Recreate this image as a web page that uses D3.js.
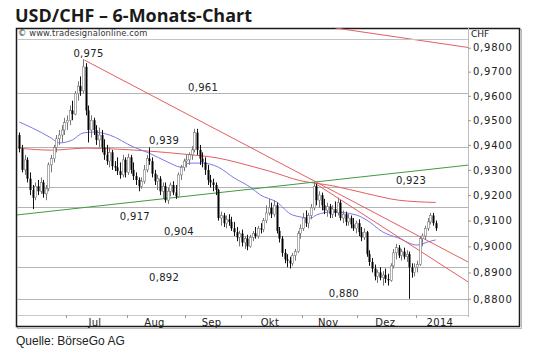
<!DOCTYPE html>
<html><head><meta charset="utf-8">
<script src="https://cdn.jsdelivr.net/npm/d3@7"></script>
<style>body{margin:0;background:#fff}svg{display:block}</style>
</head><body>
<svg id="c" width="540" height="358"></svg>
<script>
// ---- data (trading-day index 0 = first candle, early June 2013) ----
const opens=[.9440,.9385,.9300,.9340,.9265,.9220,.9190,.9235,.9215,.9250,.9205,.9225,.9320,.9345,.9390,.9425,.9440,.9460,.9490,.9500,
.9540,.9525,.9610,.9640,.9620,.9720,.9540,.9460,.9500,.9460,.9420,.9440,.9390,.9360,.9335,.9370,.9315,.9310,.9295,.9280,
.9340,.9290,.9350,.9300,.9275,.9260,.9235,.9255,.9300,.9345,.9335,.9285,.9255,.9265,.9215,.9235,.9180,.9215,.9240,.9210,
.9195,.9280,.9310,.9335,.9340,.9360,.9380,.9450,.9380,.9345,.9330,.9300,.9260,.9250,.9240,.9220,.9110,.9120,.9090,.9105,
.9095,.9070,.9055,.9035,.9050,.9015,.9030,.9000,.9035,.9050,.9040,.9070,.9065,.9100,.9130,.9150,.9125,.9160,.9060,.9030,
.8975,.8950,.8945,.8935,.8965,.8980,.9050,.9070,.9110,.9090,.9120,.9150,.9235,.9180,.9200,.9160,.9140,.9155,.9125,.9145,
.9130,.9170,.9110,.9125,.9095,.9110,.9085,.9070,.9090,.9055,.9035,.9055,.8970,.8940,.8915,.8885,.8900,.8880,.8890,.8875,
.8870,.8925,.8975,.8995,.8965,.8980,.8960,.8970,.8920,.8900,.8920,.8930,.9030,.9040,.9070,.9095,.9120,.9090];
const highs=[.9450,.9400,.9360,.9350,.9290,.9240,.9250,.9260,.9270,.9260,.9240,.9330,.9360,.9400,.9440,.9460,.9480,.9510,.9520,.9560,
.9580,.9620,.9660,.9680,.9752,.9735,.9560,.9520,.9510,.9480,.9470,.9460,.9423,.9400,.9390,.9380,.9335,.9350,.9330,.9360,
.9350,.9365,.9360,.9330,.9290,.9270,.9270,.9320,.9360,.9390,.9350,.9300,.9280,.9275,.9250,.9250,.9230,.9250,.9255,.9240,
.9290,.9320,.9345,.9360,.9370,.9395,.9465,.9465,.9400,.9370,.9350,.9320,.9280,.9265,.9250,.9225,.9135,.9130,.9120,.9125,
.9115,.9095,.9075,.9060,.9065,.9040,.9045,.9045,.9060,.9075,.9080,.9090,.9110,.9160,.9185,.9170,.9180,.9170,.9075,.9040,
.8990,.8970,.8960,.8975,.8990,.9060,.9085,.9130,.9140,.9130,.9165,.9250,.9245,.9215,.9210,.9185,.9170,.9165,.9160,.9175,
.9190,.9180,.9140,.9135,.9125,.9120,.9110,.9100,.9105,.9075,.9070,.9060,.8985,.8955,.8930,.8910,.8920,.8905,.8915,.8895,
.8935,.8990,.9010,.9005,.8990,.8995,.8985,.8980,.8935,.8935,.8945,.9040,.9050,.9080,.9110,.9130,.9130,.9100];
const lows=[.9370,.9290,.9280,.9250,.9200,.9145,.9180,.9200,.9205,.9190,.9180,.9215,.9290,.9330,.9370,.9400,.9410,.9440,.9460,.9480,
.9500,.9520,.9580,.9600,.9610,.9520,.9410,.9430,.9440,.9400,.9390,.9370,.9340,.9320,.9310,.9300,.9295,.9280,.9265,.9270,
.9270,.9280,.9285,.9260,.9240,.9215,.9225,.9245,.9290,.9320,.9270,.9240,.9220,.9200,.9185,.9170,.9165,.9195,.9200,.9185,
.9190,.9260,.9295,.9310,.9320,.9340,.9370,.9360,.9320,.9310,.9280,.9240,.9230,.9215,.9200,.9100,.9080,.9075,.9070,.9080,
.9060,.9040,.9020,.9000,.9000,.8990,.8985,.8995,.9020,.9030,.9030,.9050,.9055,.9090,.9120,.9110,.9115,.9050,.9015,.8960,
.8935,.8920,.8915,.8925,.8945,.8975,.9030,.9060,.9075,.9070,.9105,.9140,.9160,.9150,.9140,.9125,.9115,.9110,.9110,.9115,
.9120,.9100,.9090,.9080,.9080,.9070,.9060,.9050,.9040,.9020,.9025,.8960,.8925,.8900,.8870,.8860,.8870,.8850,.8860,.8850,
.8865,.8915,.8950,.8955,.8945,.8950,.8940,.8800,.8880,.8885,.8900,.8925,.9000,.9025,.9060,.9085,.9080,.9060];
const closes=[.9385,.9300,.9340,.9265,.9220,.9190,.9235,.9215,.9250,.9205,.9225,.9320,.9345,.9390,.9425,.9440,.9460,.9490,.9500,.9540,
.9525,.9610,.9640,.9620,.9720,.9540,.9460,.9500,.9460,.9420,.9440,.9390,.9360,.9335,.9370,.9315,.9310,.9295,.9280,.9340,
.9290,.9350,.9300,.9275,.9260,.9235,.9255,.9300,.9345,.9335,.9285,.9255,.9265,.9215,.9235,.9180,.9215,.9240,.9210,.9195,
.9280,.9310,.9335,.9340,.9360,.9380,.9450,.9380,.9345,.9330,.9300,.9260,.9250,.9240,.9220,.9110,.9120,.9090,.9105,.9095,
.9070,.9055,.9035,.9050,.9015,.9030,.9000,.9035,.9050,.9040,.9070,.9065,.9100,.9130,.9150,.9125,.9160,.9060,.9030,.8975,
.8950,.8945,.8935,.8965,.8980,.9050,.9070,.9110,.9090,.9120,.9150,.9235,.9180,.9200,.9160,.9140,.9155,.9125,.9145,.9130,
.9170,.9110,.9125,.9095,.9110,.9085,.9070,.9090,.9055,.9035,.9055,.8970,.8940,.8915,.8885,.8900,.8880,.8890,.8875,.8870,
.8925,.8975,.8995,.8965,.8980,.8960,.8970,.8920,.8900,.8920,.8930,.9030,.9040,.9070,.9095,.9120,.9090,.9070];

const monthLabels=["Jul","Aug","Sep","Okt","Nov","Dez","2014"];
const monthStartIdx=[18,41,63,84,107,128,150];
const axisEndIdx=169.2;

const yTickValues=[0.88,0.89,0.90,0.91,0.92,0.93,0.94,0.95,0.96,0.97,0.98];

const levelValues=[0.961,0.939,0.923,0.9152,0.904,0.892,0.880];
const levelTexts=["0,961","0,939","0,923","0,917","0,904","0,892","0,880"];

const peakText="0,975", peakIdx=26.1, peakValue=0.9752;

// short moving average (blue)
const blueIdx=[0,5,12,15,20,24,28,34,43,49,56,61,64,69,75,81,87,91,97,103,110,112,118,127,131,137,143,150,154,157];
const blueVal=[.9493,.9468,.9428,.9408,.9420,.9448,.9452,.9440,.9392,.9367,.9331,.9311,.9327,.9327,.9311,.9268,.9232,.9200,.9173,.9122,.9110,.9122,.9134,.9122,.9102,.9056,.9032,.9005,.9017,.9025];
// long moving average (red)
const redIdx=[0,12,25,37,49,62,75,87,94,106,118,131,143,157];
const redVal=[.9387,.9379,.9387,.9383,.9375,.9363,.9347,.9316,.9296,.9257,.9237,.9206,.9180,.9171];

// trend lines: [startIdx, startVal, endIdx, endVal]
const redTrendStartIdx=[24.6,111.0,119.2];
const redTrendStartVal=[0.9748,0.9250,0.9883];
const redTrendEndIdx=[169.2,169.2,169.2];
const redTrendEndVal=[0.8940,0.8864,0.9801];
const greenTrendIdx=[-0.9,169.2];
const greenTrendVal=[0.9122,0.9319];

// ---- layout ----
const svg=d3.select("#c");
const L=17,R=468,T=28,B=315;
const x=d3.scaleLinear().domain([0,157]).range([19.3,435.7]);
const y=d3.scaleLog().domain([0.88,0.98]).range([298.8,47.7]);
const fmt4=v=>d3.format(".4f")(v).replace(".",",");

const RED="#e45d62", BLUE="#7a7ae6", GREEN="#3f9b3f", GRID="#b4b4b4";

// title
const title=svg.append("text").attr("x",15).attr("y",21.5)
  .attr("font-family","'Open Sans',sans-serif").attr("font-weight","bold")
  .attr("font-size",17).attr("fill","#1a1a1a").text("USD/CHF – 6-Monats-Chart");
{const w=title.node().getComputedTextLength(); title.attr("font-size",17*237/w);}

// frame shadow + frame
svg.append("rect").attr("x",17.5).attr("y",29.5).attr("width",504).attr("height",299)
  .attr("fill","none").attr("stroke","#bbb").attr("stroke-width",1);
svg.append("rect").attr("x",16.5).attr("y",28.5).attr("width",503).attr("height",298)
  .attr("fill","#fff").attr("stroke","#1a1a1a").attr("stroke-width",1.5);

svg.append("defs").append("clipPath").attr("id","pc").append("rect")
  .attr("x",L).attr("y",T).attr("width",R-L).attr("height",B-T);
const plot=svg.append("g").attr("clip-path","url(#pc)");

// header line
svg.append("line").attr("x1",L).attr("x2",R).attr("y1",39.5).attr("y2",39.5)
  .attr("stroke","#c4c4c4").attr("stroke-width",1);
svg.append("text").attr("x",18).attr("y",36).attr("font-family","'DejaVu Sans',sans-serif")
  .attr("font-size",8.3).attr("fill","#333").attr("letter-spacing",0.15).text("© www.tradesignalonline.com");

// level grid lines
plot.selectAll("line.lvl").data(levelValues).join("line").attr("class","lvl")
  .attr("x1",L).attr("x2",R).attr("y1",d=>Math.round(y(d))+0.5).attr("y2",d=>Math.round(y(d))+0.5)
  .attr("stroke",GRID).attr("stroke-width",1);

// axes lines
svg.append("line").attr("x1",R+0.5).attr("x2",R+0.5).attr("y1",T).attr("y2",B+2)
  .attr("stroke","#bdbdbd");
svg.append("line").attr("x1",L).attr("x2",R).attr("y1",B+0.5).attr("y2",B+0.5)
  .attr("stroke","#c8c8c8");

// right axis
const yAxis=d3.axisRight(y).tickValues(yTickValues).tickSize(3).tickPadding(2).tickFormat(fmt4);
const ya=svg.append("g").attr("transform",`translate(${R},0)`).call(yAxis);
ya.select(".domain").remove();
ya.selectAll("line").attr("stroke","#999");
ya.selectAll("text").attr("font-family","'DejaVu Sans',sans-serif").attr("font-size",10)
  .attr("letter-spacing",0.75).attr("fill","#222");
svg.append("text").attr("x",471).attr("y",37).attr("font-family","'DejaVu Sans',sans-serif")
  .attr("font-size",9).attr("fill","#222").text("CHF");

// bottom axis: month ticks and labels
svg.selectAll("line.mt").data(monthStartIdx).join("line").attr("class","mt")
  .attr("x1",d=>Math.round(x(d-0.5))+0.5).attr("x2",d=>Math.round(x(d-0.5))+0.5)
  .attr("y1",B).attr("y2",B+3).attr("stroke","#999");
const mids=monthStartIdx.map((s,i)=>((i<monthStartIdx.length-1?monthStartIdx[i+1]:axisEndIdx)+s)/2-1);
svg.selectAll("text.ml").data(monthLabels).join("text").attr("class","ml")
  .attr("x",(d,i)=>x(mids[i])).attr("y",325.5).attr("text-anchor","middle")
  .attr("font-family","'DejaVu Sans',sans-serif").attr("font-size",10).attr("letter-spacing",0.3)
  .attr("fill","#222").text(d=>d);

// moving averages
const lineGen=d3.line().x(d=>x(d[0])).y(d=>y(d[1])).curve(d3.curveMonotoneX);
plot.append("path").attr("d",lineGen(redIdx.map((k,i)=>[k,redVal[i]])))
  .attr("fill","none").attr("stroke",RED).attr("stroke-width",1);
plot.append("path").attr("d",lineGen(blueIdx.map((k,i)=>[k,blueVal[i]])))
  .attr("fill","none").attr("stroke",BLUE).attr("stroke-width",1);

// trend lines
plot.selectAll("line.rt").data(redTrendStartIdx).join("line").attr("class","rt")
  .attr("x1",(d,i)=>x(d)).attr("y1",(d,i)=>y(redTrendStartVal[i]))
  .attr("x2",(d,i)=>x(redTrendEndIdx[i])).attr("y2",(d,i)=>y(redTrendEndVal[i]))
  .attr("stroke",RED).attr("stroke-width",1);
plot.append("line").attr("x1",x(greenTrendIdx[0])).attr("y1",y(greenTrendVal[0]))
  .attr("x2",x(greenTrendIdx[1])).attr("y2",y(greenTrendVal[1]))
  .attr("stroke",GREEN).attr("stroke-width",1);

// candles
const idx=d3.range(closes.length);
const cg=plot.append("g");
cg.selectAll("line.w").data(idx).join("line").attr("class","w")
  .attr("x1",i=>Math.round(x(i))+0.5).attr("x2",i=>Math.round(x(i))+0.5)
  .attr("y1",i=>y(highs[i])).attr("y2",i=>y(lows[i]))
  .attr("stroke",i=>closes[i]<opens[i]?"#111":"#777").attr("stroke-width",1);
cg.selectAll("rect.b").data(idx).join("rect").attr("class","b")
  .attr("x",i=>Math.round(x(i))-0.5).attr("width",2)
  .attr("y",i=>y(Math.max(opens[i],closes[i])))
  .attr("height",i=>Math.max(1,Math.abs(y(opens[i])-y(closes[i]))))
  .attr("fill",i=>closes[i]<opens[i]?"#000":"#fff")
  .attr("stroke",i=>closes[i]<opens[i]?"none":"#777").attr("stroke-width",0.6);

// level annotations
const labelIdx=[69.3,54.6,147.7,43.6,60.2,54.6,122.4];
const labelDy=[-2,-3,-3.5,13,-1.5,13.5,-2];
const annG=svg.append("g").attr("font-family","'DejaVu Sans',sans-serif").attr("font-size",10)
  .attr("letter-spacing",0.3).attr("fill","#222").attr("text-anchor","middle");
annG.selectAll("text.lv").data(levelTexts).join("text").attr("class","lv")
  .attr("x",(d,i)=>x(labelIdx[i])).attr("y",(d,i)=>y(levelValues[i])+labelDy[i]).text(d=>d);
annG.append("text").attr("x",x(peakIdx)).attr("y",y(peakValue)-2.5).text(peakText);

// source
svg.append("text").attr("x",16).attr("y",345).attr("font-family","'Liberation Sans',Arial,sans-serif")
  .attr("font-size",12).attr("fill","#222").text("Quelle: BörseGo AG");
</script>
</body></html>
